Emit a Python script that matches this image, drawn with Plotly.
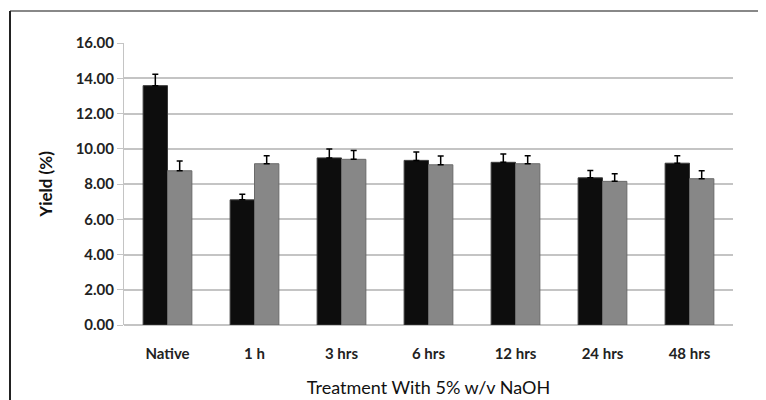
import plotly.graph_objects as go

categories = ["Native", "1 h", "3 hrs", "6 hrs", "12 hrs", "24 hrs", "48 hrs"]
series_a = [13.58, 7.10, 9.48, 9.34, 9.23, 8.35, 9.18]
err_a = [0.65, 0.32, 0.50, 0.47, 0.47, 0.42, 0.42]
series_b = [8.75, 9.15, 9.40, 9.09, 9.15, 8.15, 8.30]
err_b = [0.55, 0.45, 0.50, 0.50, 0.45, 0.43, 0.45]
y_ticks = [0, 2, 4, 6, 8, 10, 12, 14, 16]

font_family = "Lato, Open Sans, sans-serif"

# page body has an 8px default margin; figure sized to fit the window
W, H = 758, 392
ML, MR, MT, MB = 116, 33, 35, 75
PW, PH = W - ML - MR, H - MT - MB

fig = go.Figure()
fig.add_trace(go.Bar(
    x=categories, y=series_a,
    marker=dict(color="#0d0d0d", line=dict(color="#3a3a3a", width=1)),
    error_y=dict(type="data", symmetric=False, array=err_a, arrayminus=[0] * len(err_a),
                 visible=True, color="#000000", thickness=1.5, width=3),
    showlegend=False,
))
fig.add_trace(go.Bar(
    x=categories, y=series_b,
    marker=dict(color="#878787", line=dict(color="#6a6a6a", width=1)),
    error_y=dict(type="data", symmetric=False, array=err_b, arrayminus=[0] * len(err_b),
                 visible=True, color="#000000", thickness=1.5, width=3),
    showlegend=False,
))

fig.update_layout(
    width=W, height=H,
    margin=dict(l=ML, r=MR, t=MT, b=MB),
    paper_bgcolor="white", plot_bgcolor="white",
    barmode="group", bargap=0.44, bargroupgap=0.0,
    font=dict(family=font_family, color="#222222"),
    xaxis=dict(
        automargin=False,
        showgrid=False, showline=False, zeroline=False,
        ticks="outside", ticklen=15, tickcolor="rgba(0,0,0,0)",
        tickfont=dict(size=15, color="#222222", weight="bold"),
        title=dict(text="Treatment With 5% w/v NaOH", font=dict(size=18, color="#111111"), standoff=20),
    ),
    yaxis=dict(
        automargin=False,
        range=[0, 16], tickvals=y_ticks,
        ticktext=[f"{v:.2f}" for v in y_ticks],
        showgrid=True, gridcolor="#c4c4c4", gridwidth=1.5,
        zeroline=True, zerolinecolor="#c4c4c4", zerolinewidth=1.5,
        showline=True, linecolor="#c4c4c4", linewidth=1,
        ticks="outside", ticklen=6, tickcolor="#c4c4c4",
        tickfont=dict(size=15, color="#222222", weight="bold"),
        title=dict(text="Yield (%)", font=dict(size=17, color="#111111", weight="bold"), standoff=18),
    ),
    shapes=[
        dict(type="line", xref="paper", yref="paper", x0=-(ML - 2) / PW, x1=(W - ML + 10) / PW,
             y0=1 + (MT - 3) / PH, y1=1 + (MT - 3) / PH, line=dict(color="#888888", width=2)),
        dict(type="line", xref="paper", yref="paper", x0=-(ML - 2) / PW, x1=-(ML - 2) / PW,
             y0=1 + (MT - 3) / PH, y1=-(MB + 10) / PH, line=dict(color="#222222", width=2)),
    ],
)

fig.write_html("out.html")
